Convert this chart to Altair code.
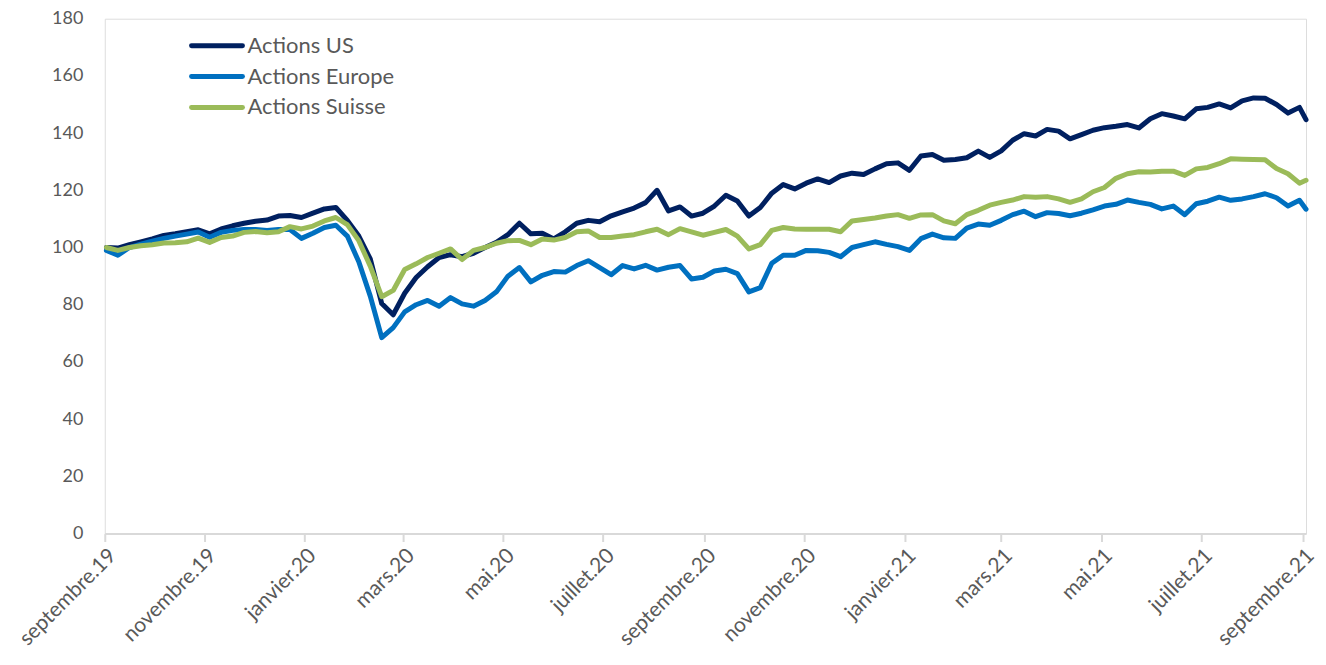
import altair as alt
import pandas as pd

# Weekly sampling dates (x categories)
dates = [d.strftime("%Y-%m-%dT00:00:00") for d in pd.date_range("2019-09-02", "2021-08-30", freq="7D")]
dates.append("2021-09-03T00:00:00")

series_names = ["Actions US", "Actions Europe", "Actions Suisse"]
series_colors = ["#002060", "#0070C0", "#9BBB59"]

actions_us = [
    100, 99.8, 101, 102, 103, 104.2, 104.8, 105.5, 106.2, 104.8,
    106.5, 107.6, 108.5, 109.2, 109.6, 111, 111.2, 110.5, 112, 113.5,
    114, 109.5, 104, 96, 80.4, 76.5, 84, 89.5, 93.3, 96.5,
    97.5, 96.8, 98, 100, 101.8, 104.5, 108.5, 104.8, 105, 103,
    105.5, 108.5, 109.5, 109, 111.1, 112.5, 113.8, 115.7, 120, 112.8,
    114.2, 111, 112, 114.5, 118.3, 116.3, 111, 114, 119, 122,
    120.5, 122.5, 124, 122.7, 125, 126, 125.5, 127.5, 129.3, 129.6,
    127, 132, 132.5, 130.5, 130.8, 131.4, 133.7, 131.5, 133.8, 137.5,
    139.8, 139, 141.3, 140.7, 138, 139.5, 141, 141.9, 142.4, 143,
    141.8, 145, 146.8, 146, 145, 148.5, 149, 150.2, 148.8, 151.3,
    152.3, 152.2, 150, 147, 149, 144.7,
]

actions_europe = [
    99, 97.3, 100, 101.2, 102.2, 103.2, 104, 104.7, 105.4, 103.6,
    105.3, 106, 106.3, 106.3, 106, 106.3, 106.3, 103.2, 105, 107,
    107.8, 104, 95, 83, 68.5, 72, 77.5, 80, 81.5, 79.5,
    82.5, 80.3, 79.5, 81.5, 84.5, 90, 93, 88, 90.3, 91.6,
    91.4, 93.7, 95.4, 93, 90.5, 93.7, 92.5, 93.8, 92.1, 93.1,
    93.7, 89, 89.6, 91.8, 92.4, 90.9, 84.5, 86, 94.5, 97.3,
    97.3, 99, 98.9, 98.3, 96.8, 100, 101, 102, 101.1, 100.3,
    99, 103.1, 104.7, 103.4, 103.2, 106.8, 108.2, 107.8, 109.5, 111.5,
    112.7, 110.8, 112.2, 111.9, 111.1, 112, 113.2, 114.5, 115.1, 116.6,
    115.8, 115.1, 113.5, 114.5, 111.5, 115.3, 116.2, 117.6, 116.5, 117,
    117.8, 118.8, 117.4, 114.5, 116.5, 113.4,
]

actions_suisse = [
    100, 99, 100, 100.6, 101, 101.6, 101.7, 102, 103.3, 101.8,
    103.5, 104, 105.3, 105.6, 105.2, 105.5, 107.3, 106.5, 107.5, 109.3,
    110.5, 108, 102.4, 93.5, 82.8, 85, 92.3, 94.3, 96.5, 98,
    99.5, 95.8, 99, 100, 101.5, 102.4, 102.5, 101, 103, 102.6,
    103.5, 105.5, 105.8, 103.5, 103.5, 104, 104.5, 105.5, 106.4, 104.5,
    106.6, 105.5, 104.3, 105.3, 106.3, 104, 99.5, 101, 106, 107,
    106.5, 106.4, 106.4, 106.4, 105.5, 109.3, 109.8, 110.3, 111, 111.5,
    110.2, 111.4, 111.5, 109.3, 108.3, 111.5, 113, 114.8, 115.8, 116.6,
    117.8, 117.6, 117.8, 117, 115.8, 117, 119.5, 121, 124.2, 125.8,
    126.5, 126.4, 126.7, 126.7, 125.2, 127.5, 128, 129.3, 131, 130.9,
    130.8, 130.7, 127.6, 125.8, 122.5, 123.5,
]

tick_keys = ["2019-09", "2019-11", "2020-01", "2020-03", "2020-05", "2020-07", "2020-09",
             "2020-11", "2021-01", "2021-03", "2021-05", "2021-07", "2021-09"]
tick_labels = ["septembre.19", "novembre.19", "janvier.20", "mars.20", "mai.20", "juillet.20",
               "septembre.20", "novembre.20", "janvier.21", "mars.21", "mai.21", "juillet.21",
               "septembre.21"]
y_ticks = [0, 20, 40, 60, 80, 100, 120, 140, 160, 180]

rows = []
for order, (name, vals) in enumerate(zip(series_names, [actions_us, actions_europe, actions_suisse])):
    for d, v in zip(dates, vals):
        rows.append({"date": d, "value": v, "series": name, "order": order})
df = pd.DataFrame(rows)

label_expr = ("[" + ",".join("'%s'" % l for l in tick_labels) + "][indexof([" +
              ",".join("'%s'" % k for k in tick_keys) + "], timeFormat(datum.value, '%Y-%m'))]")

tick_values = [alt.DateTime(year=int(k[:4]), month=int(k[5:]), date=1) for k in tick_keys]

FONT = "Lato"
GREY = "#595959"

color_scale = alt.Scale(domain=series_names, range=series_colors)

lines = alt.Chart(df).mark_line(strokeWidth=5, strokeJoin="round", strokeCap="round").encode(
    x=alt.X("date:T",
            scale=alt.Scale(domain=[alt.DateTime(year=2019, month=9, date=1),
                                    alt.DateTime(year=2021, month=9, date=3)]),
            axis=alt.Axis(title=None, values=tick_values, labelExpr=label_expr,
                          labelAngle=-45, labelAlign="right", labelBaseline="top",
                          labelFontSize=21, labelColor=GREY, labelFont=FONT,
                          domainColor="#d9d9d9", domainWidth=2, tickColor="#d9d9d9",
                          tickWidth=2, tickSize=8, labelPadding=3, grid=False,
                          labelOverlap=False, labelFlush=False)),
    y=alt.Y("value:Q",
            scale=alt.Scale(domain=[0, 180], nice=False, zero=True),
            axis=alt.Axis(title=None, values=y_ticks, domain=False, ticks=False, grid=False,
                          labelFontSize=18, labelColor=GREY, labelFont=FONT, labelPadding=22)),
    color=alt.Color("series:N", scale=color_scale, legend=None),
    order=alt.Order("order:Q"),
    detail="series:N",
)

# Legend drawn as a small layer: a short line and a label per series
legend_df = pd.DataFrame({"series": series_names})
legend_y = alt.Y("series:N",
                 scale=alt.Scale(type="point", domain=series_names, range=[27, 89], padding=0),
                 axis=None)

legend_lines = alt.Chart(legend_df).mark_rule(strokeWidth=5, strokeCap="round").encode(
    x=alt.value(87), x2=alt.value(138), y=legend_y,
    color=alt.Color("series:N", scale=color_scale, legend=None),
)
legend_text = alt.Chart(legend_df).mark_text(
    align="left", baseline="middle", fontSize=22, font=FONT, color=GREY
).encode(x=alt.value(143), y=legend_y, text="series:N")

chart = alt.layer(lines, legend_lines, legend_text).resolve_scale(
    y="independent"
).properties(
    width=1204, height=516,
    padding={"left": 97, "top": 10, "right": 12, "bottom": 122},
    autosize=alt.AutoSizeParams(type="none"),
).configure_view(stroke=None).configure(font=FONT, background="white")

chart.save("out.html", embed_options={"renderer": "svg", "actions": False})
